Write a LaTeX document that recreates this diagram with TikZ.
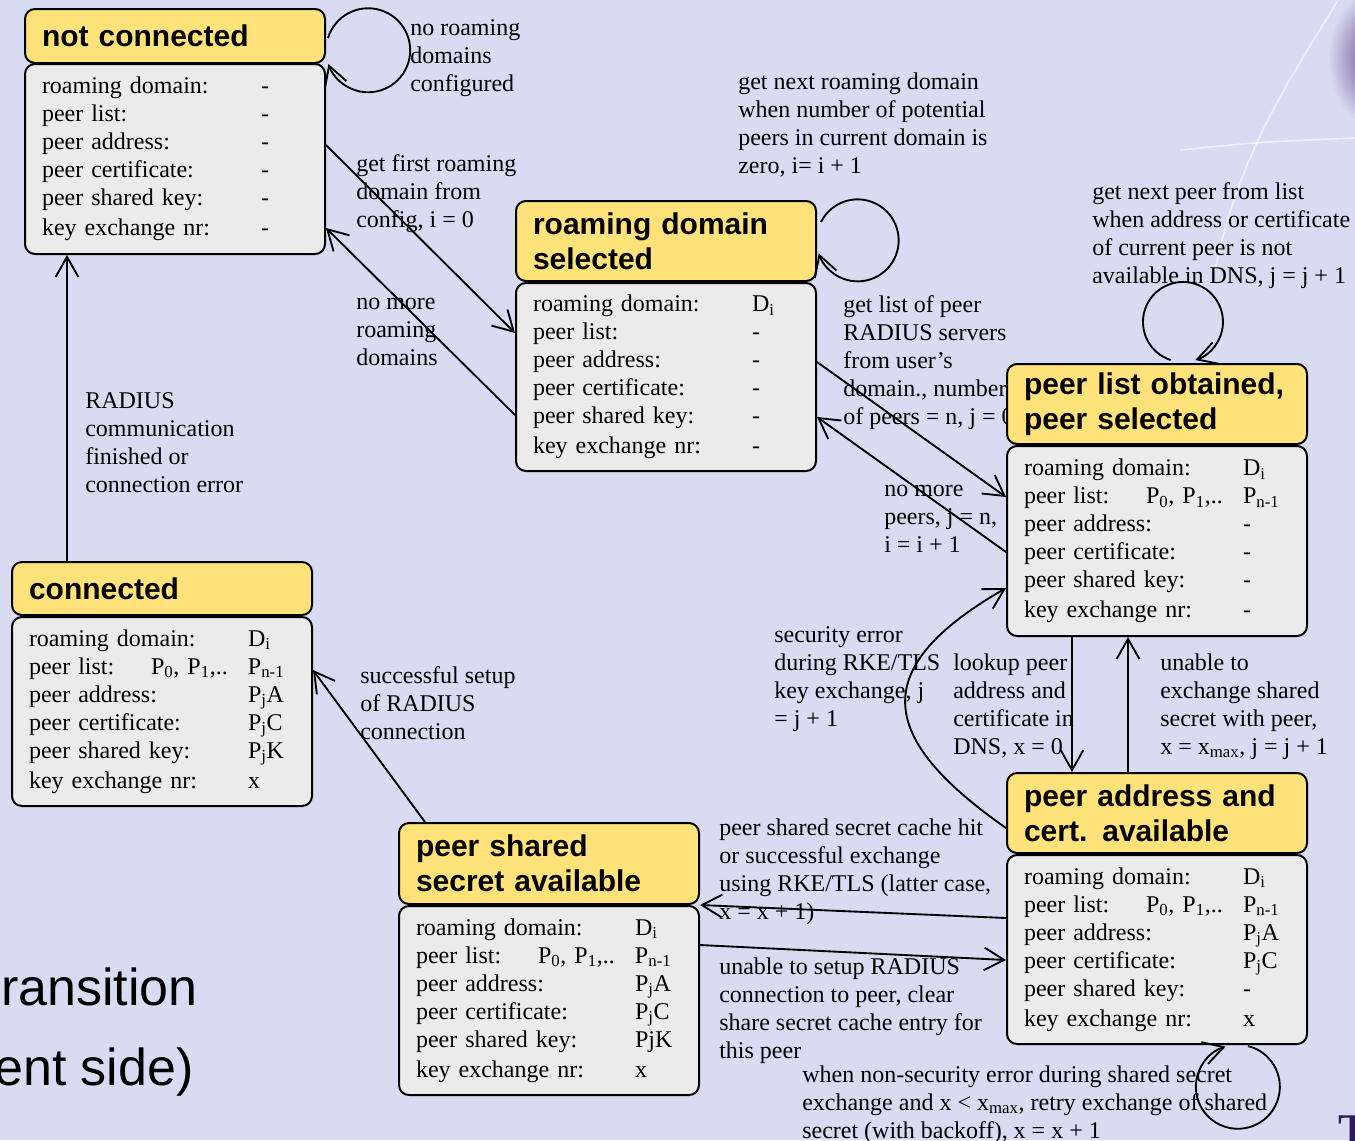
\documentclass[tikz,border=0pt]{standalone}
\usepackage{fontspec}
\setmainfont{Liberation Serif}
\setsansfont{Liberation Sans}
\usetikzlibrary{arrows.meta,calc}
\definecolor{bgc}{RGB}{216,219,241}
\definecolor{hdrc}{RGB}{255,226,122}
\definecolor{bodyc}{RGB}{235,235,235}
\definecolor{logoc}{RGB}{45,30,90}
\definecolor{blobc}{RGB}{100,60,135}
\newcommand\bodyfnt{\fontsize{18pt}{21pt}\selectfont}
\newcommand\hdrfnt{\sffamily\bfseries\fontsize{22.5pt}{26.25pt}\selectfont}
\newcommand\brow[2]{\makebox[164.25pt][l]{#1}#2}
\newcommand\plist[1]{\makebox[164.25pt][l]{\makebox[91.5pt][l]{peer list:}P\textsubscript{0}, P\textsubscript{1},..}#1}
\begin{document}
\begin{tikzpicture}[x=0.75pt,y=-0.75pt,
  boxbase/.style={draw, line width=1.5pt, rounded corners=7.5pt, anchor=north west,
    text width=199.5pt, inner xsep=12.75pt, inner ysep=0pt, align=left},
  hdr/.style={boxbase, fill=hdrc, font=\hdrfnt},
  body/.style={boxbase, fill=bodyc, font=\bodyfnt},
  lbl/.style={anchor=base west, align=left, inner sep=0pt, font=\bodyfnt},
  conn/.style={line width=1.4pt, -{Straight Barb[length=15pt,width=17pt]}}]
\fill[bgc] (0,0) rectangle (1355,1140);
\useasboundingbox (0,0) rectangle (1355,1140);
% background decoration
\shade[inner color=blobc, outer color=bgc] (1378,58) ellipse [x radius=50, y radius=70];
\draw[white, line width=1.2pt, opacity=0.6] (1338,0) .. controls (1290,80) and (1240,150) .. (1215,270);
\draw[white, line width=1.2pt, opacity=0.6] (1180,150) .. controls (1260,142) .. (1355,138);
\node[anchor=base west, inner sep=0pt, font=\sffamily\fontsize{39pt}{39pt}\selectfont] (tr1) at (1,1005) {ransition};
\node[anchor=base west, inner sep=0pt, font=\sffamily\fontsize{39pt}{39pt}\selectfont] (tr2) at (-6,1085) {ent side)};
\node[anchor=base west, inner sep=0pt, text=logoc, font=\bfseries\fontsize{34pt}{34pt}\selectfont] (logoT) at (1338,1145) {T};
% labels (anchored at the baseline of the last line)
\node[lbl] (lA) at (410,91) {no roaming\\domains\\configured};
\node[lbl] (lB) at (738,173) {get next roaming domain\\when number of potential\\peers in current domain is\\zero, i= i + 1};
\node[lbl] (lC) at (356,227) {get first roaming\\domain from\\config, i = 0};
\node[lbl] (lD) at (1092,283) {get next peer from list\\when address or certificate\\of current peer is not\\available in DNS, j = j + 1};
\node[lbl] (lE) at (356,365) {no more\\roaming\\domains};
\node[lbl] (lF) at (843,424) {get list of peer\\RADIUS servers\\from user’s\\domain., number\\of peers = n, j = 0};
\node[lbl] (lG) at (85,492) {RADIUS\\communication\\finished or\\connection error};
\node[lbl] (lH) at (884,552) {no more\\peers, j = n,\\i = i + 1};
\node[lbl] (lI) at (774,726) {security error\\during RKE/TLS\\key exchange, j\\= j + 1};
\node[lbl] (lJ) at (953,754) {lookup peer\\address and\\certificate in\\DNS, x = 0};
\node[lbl] (lK) at (1160,754) {unable to\\exchange shared\\secret with peer,\\x = x\textsubscript{max}, j = j + 1};
\node[lbl] (lL) at (360,739) {successful setup\\of RADIUS\\connection};
\node[lbl] (lM) at (719,919) {peer shared secret cache hit\\or successful exchange\\using RKE/TLS (latter case,\\x = x + 1)};
\node[lbl] (lN) at (719,1058) {unable to setup RADIUS\\connection to peer, clear\\share secret cache entry for\\this peer};
\node[lbl] (lO) at (802,1138) {when non-security error during shared secret\\exchange and x < x\textsubscript{max}, retry exchange of shared\\secret (with backoff), x = x + 1};
% boxes
\node[hdr, minimum height=40.5pt] (h1) at (24,8) {not connected};
\node[body, minimum height=142.5pt] (b1) at (24,63) {\brow{roaming domain:}{-}\\\brow{peer list:}{-}\\\brow{peer address:}{-}\\\brow{peer certificate:}{-}\\\brow{peer shared key:}{-}\\[1.5pt]\brow{key exchange nr:}{-}};
\node[hdr, minimum height=60pt] (h2) at (515,200) {roaming domain\\selected};
\node[body, minimum height=141pt] (b2) at (515,282) {\brow{roaming domain:}{D\textsubscript{i}}\\\brow{peer list:}{-}\\\brow{peer address:}{-}\\\brow{peer certificate:}{-}\\\brow{peer shared key:}{-}\\[1.5pt]\brow{key exchange nr:}{-}};
\node[hdr, minimum height=60pt] (h3) at (1006,363) {peer list obtained,\\peer selected};
\node[body, minimum height=142.5pt] (b3) at (1006,445) {\brow{roaming domain:}{D\textsubscript{i}}\\\plist{P\textsubscript{n-1}}\\\brow{peer address:}{-}\\\brow{peer certificate:}{-}\\\brow{peer shared key:}{-}\\[1.5pt]\brow{key exchange nr:}{-}};
\node[hdr, minimum height=39.75pt] (h4) at (11,561) {connected};
\node[body, minimum height=141.75pt] (b4) at (11,616) {\brow{roaming domain:}{D\textsubscript{i}}\\\plist{P\textsubscript{n-1}}\\\brow{peer address:}{P\textsubscript{j}A}\\\brow{peer certificate:}{P\textsubscript{j}C}\\\brow{peer shared key:}{P\textsubscript{j}K}\\[1.5pt]\brow{key exchange nr:}{x}};
\node[hdr, minimum height=60.75pt] (h5) at (398,822) {peer shared\\secret available};
\node[body, minimum height=141.75pt] (b5) at (398,905) {\brow{roaming domain:}{D\textsubscript{i}}\\\plist{P\textsubscript{n-1}}\\\brow{peer address:}{P\textsubscript{j}A}\\\brow{peer certificate:}{P\textsubscript{j}C}\\\brow{peer shared key:}{PjK}\\[1.5pt]\brow{key exchange nr:}{x}};
\node[hdr, minimum height=60pt] (h6) at (1006,772) {peer address and\\cert. available};
\node[body, minimum height=141.75pt] (b6) at (1006,854) {\brow{roaming domain:}{D\textsubscript{i}}\\\plist{P\textsubscript{n-1}}\\\brow{peer address:}{P\textsubscript{j}A}\\\brow{peer certificate:}{P\textsubscript{j}C}\\\brow{peer shared key:}{-}\\[1.5pt]\brow{key exchange nr:}{x}};
% connectors
\draw[conn] ($(b1.north east)+(0,82)$) -- ($(b2.north west)+(0,51)$);
\draw[conn] ($(b2.north west)+(0,133)$) -- ($(b1.north east)+(0,165)$);
\draw[conn] ($(b2.north east)+(0,80)$) -- ($(b3.north west)+(0,52)$);
\draw[conn] ($(b3.north west)+(0,107)$) -- ($(b2.north east)+(0,135)$);
\draw[conn] ($(b3.south west)+(66,0)$) -- ($(h6.north west)+(66,0)$);
\draw[conn] ($(h6.north west)+(122,0)$) -- ($(b3.south west)+(122,0)$);
\draw[conn] ($(h6.north west)+(0,56)$) to[out=145,in=-150,looseness=1.7] ($(b3.north west)+(0,143)$);
\draw[conn] ($(b6.north west)+(0,64)$) -- (b5.north east);
\draw[conn] ($(b5.north east)+(0,40)$) -- ($(b6.north west)+(0,106)$);
\draw[conn] ($(h5.north west)+(27,0)$) -- ($(b4.north east)+(0,54)$);
\draw[conn] ($(h4.north west)+(56,0)$) -- ($(b1.south west)+(43,0)$);
% self loops
\draw[conn] ($(h1.north east)+(2,30)$) arc[start angle=163, end angle=-161, radius=31.5pt];
\draw[conn] ($(h2.north east)+(4,22)$) arc[start angle=153.4, end angle=-161.6, radius=30.75pt];
\draw[conn] ($(h3.north west)+(164.6,-3)$) arc[start angle=-108, end angle=-432, radius=30pt];
\draw[conn] ($(b6.south west)+(242,1)$) arc[start angle=76, end angle=-253, radius=31.5pt];
\end{tikzpicture}
\end{document}
